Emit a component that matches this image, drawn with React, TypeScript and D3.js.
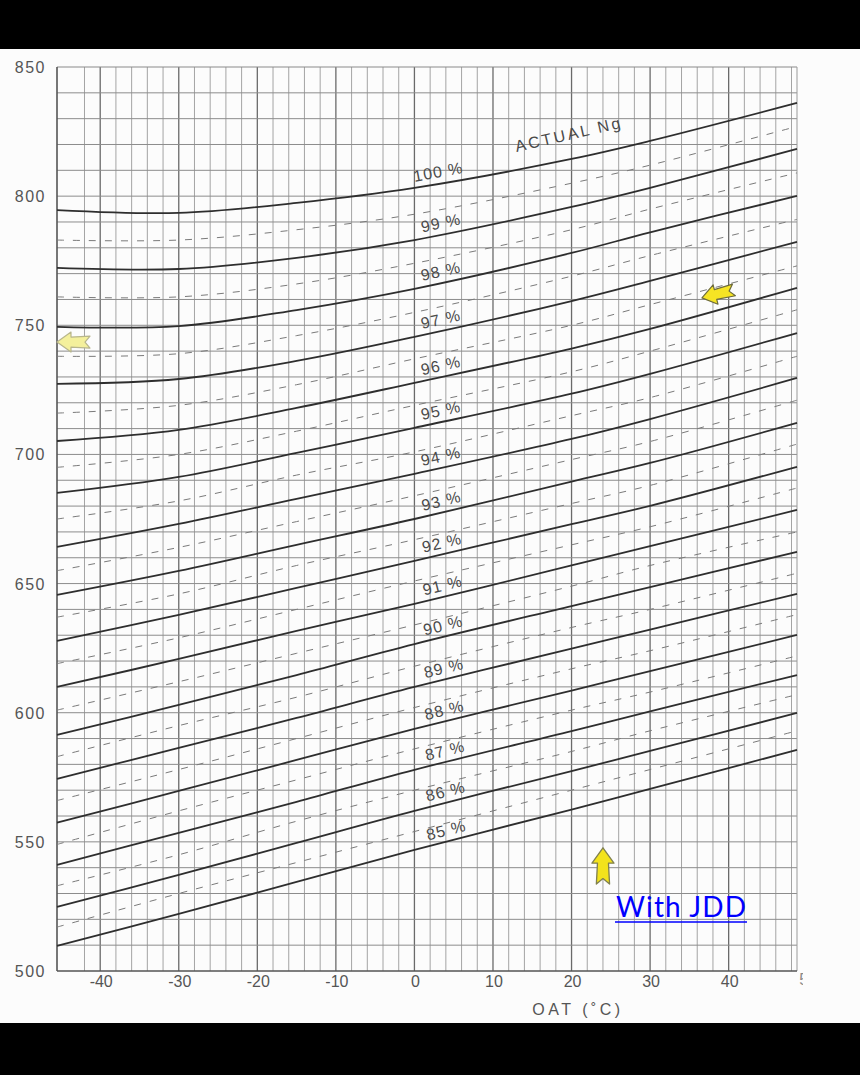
import React, { useRef, useEffect } from 'react';
import * as d3 from 'd3';

const oatCols = [-45.5, -30, -15, 0, 20, 30, 48.7];
const ngLevels = [100, 99, 98, 97, 96, 95, 94, 93, 92, 91, 90, 89, 88, 87, 86, 85];

// solid Ng lines (top curve first), one array per OAT column
const ittM45 = [794.6, 772.2, 749.4, 727.3, 705.2, 685.1, 664.2, 645.6, 627.8, 610.0, 591.4, 574.4, 557.4, 541.1, 524.8, 509.7];
const ittM30 = [793.5, 771.8, 749.7, 729.2, 709.5, 691.3, 673.1, 654.9, 637.9, 620.8, 603.0, 586.4, 569.7, 553.5, 537.2, 522.1];
const ittM15 = [797.4, 776.1, 755.9, 736.2, 718.0, 700.6, 682.8, 665.0, 648.3, 631.7, 614.6, 598.0, 581.7, 565.5, 549.6, 534.5];
const itt0 = [803.2, 783.0, 764.1, 745.5, 727.7, 710.3, 692.5, 675.0, 658.8, 642.1, 626.6, 610.0, 593.7, 577.9, 562.0, 546.9];
const itt20 = [814.4, 795.8, 778.0, 759.4, 741.0, 723.5, 706.0, 689.5, 673.0, 657.0, 641.3, 624.8, 608.6, 592.9, 577.4, 562.5];
const itt30 = [821.4, 803.2, 786.0, 767.2, 748.6, 731.2, 713.7, 696.7, 680.1, 664.5, 648.6, 632.2, 616.1, 600.5, 585.2, 570.5];
const itt48 = [836.1, 818.3, 800.1, 782.3, 764.5, 747.0, 729.6, 712.2, 695.2, 678.5, 662.3, 646.0, 630.1, 614.6, 599.9, 585.6];

// dashed half-percent lines between the solid ones
const halfM45 = [783, 761, 738, 716, 695, 675, 655, 637, 619, 601, 583, 566, 549, 533, 517];
const halfM30 = [783, 761, 739, 719, 700, 682, 664, 646, 629, 612, 595, 578, 562, 545, 530];
const halfM15 = [787, 766, 746, 727, 709, 692, 674, 657, 640, 623, 606, 590, 574, 558, 542];
const half0 = [793, 774, 755, 737, 719, 701, 684, 667, 651, 634, 618, 602, 586, 570, 554];
const half20 = [805, 787, 769, 750, 732, 715, 698, 681, 665, 649, 633, 617, 601, 585, 570];
const half30 = [812, 795, 777, 758, 740, 722, 705, 688, 672, 657, 640, 624, 608, 593, 578];
const half48 = [827, 809, 791, 773, 756, 738, 721, 704, 687, 670, 654, 638, 622, 607, 593];

const yTicks = [500, 550, 600, 650, 700, 750, 800, 850];
const xTicks = [-40, -30, -20, -10, 0, 10, 20, 30, 40];

// yellow arrows pasted on the scan: tip position in chart units
const arrowSpots = [
  { oat: -45.5, itt: 743.5, angle: 0, k: 1 },
  { oat: 36.6, itt: 760.6, angle: -14, k: 1 },
  { oat: 24, itt: 547.7, angle: 90, k: 1.1 },
];
const arrowFill = ['#f4f09c', '#f6e424', '#f3e31c'];
const arrowStroke = ['#b8b68c', '#6e6c3c', '#80804f'];

function App() {
  const ref = useRef<SVGSVGElement>(null);

  useEffect(() => {
    const svg = d3.select(ref.current);
    svg.selectAll('*').remove();
    drawChart(svg);
  }, []);

  const drawChart = (svg: any) => {
    const x = d3.scaleLinear().domain([-45.5, 48.7]).range([57, 797]);
    const y = d3.scaleLinear().domain([500, 850]).range([971, 67]);

    // paper + black bands of the photo
    svg.append('rect').attr('width', 860).attr('height', 1075).attr('fill', '#fcfcfc');
    svg.append('rect').attr('width', 860).attr('height', 49).attr('fill', '#000');
    svg.append('rect').attr('y', 1023).attr('width', 860).attr('height', 52).attr('fill', '#000');

    const grid = svg.append('g');
    // vertical grid every 2 deg, darker every 10
    grid.selectAll('line.v')
      .data(d3.range(-42, 49, 2))
      .join('line')
      .attr('x1', (d: number) => x(d)).attr('x2', (d: number) => x(d))
      .attr('y1', y(850)).attr('y2', y(500))
      .attr('stroke', (d: number) => d % 10 === 0 ? '#6a6a6a' : '#9a9a9a')
      .attr('stroke-width', (d: number) => d % 10 === 0 ? 1.3 : 0.9);
    // horizontal grid every 10
    grid.selectAll('line.h')
      .data(d3.range(510, 850, 10))
      .join('line')
      .attr('x1', x(-45.5)).attr('x2', x(48.7))
      .attr('y1', (d: number) => y(d)).attr('y2', (d: number) => y(d))
      .attr('stroke', '#8c8c8c')
      .attr('stroke-width', 1);

    // frame
    svg.append('line').attr('x1', x(-45.5)).attr('x2', x(48.7)).attr('y1', y(850)).attr('y2', y(850))
      .attr('stroke', '#8a8a8a').attr('stroke-width', 1.2);
    svg.append('line').attr('x1', x(48.7)).attr('x2', x(48.7)).attr('y1', y(850)).attr('y2', y(500))
      .attr('stroke', '#9a9a9a').attr('stroke-width', 1);
    svg.append('line').attr('x1', x(-45.5)).attr('x2', x(-45.5)).attr('y1', y(850)).attr('y2', y(500))
      .attr('stroke', '#555').attr('stroke-width', 1.6);
    svg.append('line').attr('x1', x(-45.5)).attr('x2', x(48.7)).attr('y1', y(500)).attr('y2', y(500))
      .attr('stroke', '#555').attr('stroke-width', 1.6);

    const line = d3.line<[number, number]>()
      .x(d => x(d[0]))
      .y(d => y(d[1]))
      .curve(d3.curveCatmullRom.alpha(0.5));

    const solidCols = [ittM45, ittM30, ittM15, itt0, itt20, itt30, itt48];
    const halfCols = [halfM45, halfM30, halfM15, half0, half20, half30, half48];

    const solid = ngLevels.map((ng, i) => ({
      ng,
      pts: oatCols.map((o, j) => [o, solidCols[j][i]] as [number, number]),
    }));
    const dashed = halfCols[0].map((_, i) =>
      oatCols.map((o, j) => [o, halfCols[j][i]] as [number, number]));

    svg.append('g').selectAll('path')
      .data(dashed)
      .join('path')
      .attr('d', (d: any) => line(d))
      .attr('fill', 'none')
      .attr('stroke', '#7a7a7a')
      .attr('stroke-width', 1)
      .attr('stroke-dasharray', '7 9');

    svg.append('g').selectAll('path')
      .data(solid)
      .join('path')
      .attr('d', (d: any) => line(d.pts))
      .attr('fill', 'none')
      .attr('stroke', '#2e2e2e')
      .attr('stroke-width', 1.8);

    // curve labels sitting just above each line
    const labels = svg.append('g')
      .attr('font-family', 'Liberation Sans, Arial, sans-serif')
      .attr('font-size', 16)
      .attr('fill', '#4a4a4a');
    solid.forEach(s => {
      const f = d3.scaleLinear().domain(oatCols).range(s.pts.map(p => p[1]));
      const lo = s.ng === 100 ? 0 : 1.0 + Math.max(0, 94 - s.ng) * 0.08;
      const px = x(lo);
      const py = y(f(lo)) - 6;
      const slope = (y(f(lo + 6)) - y(f(lo))) / (x(lo + 6) - x(lo));
      const ang = Math.atan(slope) * 180 / Math.PI;
      labels.append('text')
        .attr('transform', `translate(${px},${py}) rotate(${ang})`)
        .attr('letter-spacing', 1)
        .text(`${s.ng} %`);
    });

    // ACTUAL Ng
    {
      const f = d3.scaleLinear().domain(oatCols).range(solid[0].pts.map(p => p[1]));
      const lo = 13;
      labels.append('text')
        .attr('transform', `translate(${x(lo)},${y(f(lo)) - 17}) rotate(-13)`)
        .attr('letter-spacing', 2.5)
        .text('ACTUAL Ng');
    }

    // axes labels
    const axisText = svg.append('g')
      .attr('font-family', 'Liberation Sans, Arial, sans-serif')
      .attr('font-size', 16)
      .attr('fill', '#555');
    axisText.selectAll('text.y')
      .data(yTicks)
      .join('text')
      .attr('x', 46)
      .attr('y', (d: number) => y(d) + 6)
      .attr('text-anchor', 'end')
      .attr('letter-spacing', 1.5)
      .text((d: number) => d);
    const xg = svg.append('g')
      .attr('font-family', 'Liberation Sans, Arial, sans-serif')
      .attr('font-size', 16)
      .attr('fill', '#555');
    xg.selectAll('text')
      .data(xTicks)
      .join('text')
      .attr('x', (d: number) => x(d) + 1)
      .attr('y', 987)
      .attr('text-anchor', 'middle')
      .text((d: number) => d);
    // cut-off "50" at the scan's edge
    svg.append('clipPath').attr('id', 'edgeclip')
      .append('rect').attr('x', 0).attr('y', 0).attr('width', 803).attr('height', 1075);
    svg.append('text')
      .attr('clip-path', 'url(#edgeclip)')
      .attr('x', x(50) + 1).attr('y', 985)
      .attr('text-anchor', 'middle')
      .attr('font-family', 'Liberation Sans, Arial, sans-serif')
      .attr('font-size', 16).attr('fill', '#888')
      .text('50');

    svg.append('text')
      .attr('x', 578).attr('y', 1015)
      .attr('text-anchor', 'middle')
      .attr('font-family', 'Liberation Sans, Arial, sans-serif')
      .attr('font-size', 16)
      .attr('letter-spacing', 3.5)
      .attr('fill', '#555')
      .text('OAT (˚C)');

    // yellow arrows
    const arrowPath = 'M0,0 L14,-10 L14,-5 L33,-6 L28,0 L33,6 L14,5 L14,10 Z';
    svg.append('g').selectAll('path')
      .data(arrowSpots)
      .join('path')
      .attr('d', arrowPath)
      .attr('transform', (d: any) => `translate(${x(d.oat)},${y(d.itt)}) rotate(${d.angle}) scale(${d.k})`)
      .attr('fill', (_: any, i: number) => arrowFill[i])
      .attr('stroke', (_: any, i: number) => arrowStroke[i])
      .attr('stroke-width', 1.2)
      .attr('stroke-linejoin', 'round');

    // hyperlink text
    svg.append('text')
      .attr('x', 616).attr('y', 917)
      .attr('font-family', 'Lato, Open Sans, sans-serif')
      .attr('font-size', 28)
      .attr('textLength', 130)
      .attr('lengthAdjust', 'spacing')
      .attr('fill', '#0000ff')
      .text('With JDD');
    svg.append('line')
      .attr('x1', 615).attr('x2', 747).attr('y1', 922).attr('y2', 922)
      .attr('stroke', '#0000ff').attr('stroke-width', 1.6);
  };

  return (
    <svg ref={ref} width={860} height={1075}
      style={{ position: 'absolute', left: 0, top: 0, display: 'block' }} />
  );
}

export default App;
